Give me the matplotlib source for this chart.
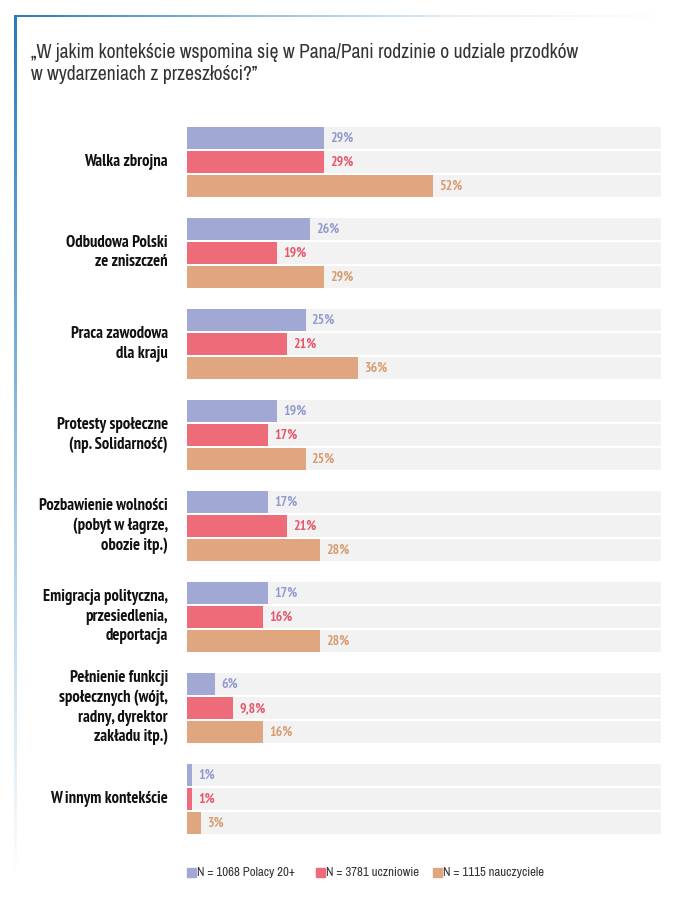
import numpy as np
import matplotlib.pyplot as plt
from matplotlib import font_manager
from matplotlib.font_manager import FontProperties
from matplotlib.colors import LinearSegmentedColormap

# data
categories = ["Walka zbrojna",
              "Odbudowa Polski\nze zniszczeń",
              "Praca zawodowa\ndla kraju",
              "Protesty społeczne\n(np. Solidarność)",
              "Pozbawienie wolności\n(pobyt w łagrze,\nobozie itp.)",
              "Emigracja polityczna,\nprzesiedlenia,\ndeportacja",
              "Pełnienie funkcji\nspołecznych (wójt,\nradny, dyrektor\nzakładu itp.)",
              "W innym kontekście"]
polacy = [29, 26, 25, 19, 17, 17, 6, 1]
uczniowie = [29, 19, 21, 17, 21, 16, 9.8, 1]
nauczyciele = [52, 29, 36, 25, 28, 28, 16, 3]
series_names = ["N = 1068 Polacy 20+", "N = 3781 uczniowie", "N = 1115 nauczyciele"]
title_lines = ["„W jakim kontekście wspomina się w Pana/Pani rodzinie o udziale przodków",
               "w wydarzeniach z przeszłości?”"]

bar_colors = ["#a1a8d4", "#ee6c7a", "#dfa67f"]
text_colors = ["#929ace", "#e5586b", "#d89c72"]


def pick_font(bold):
    # look for a narrow / condensed face, else a plain sans
    fonts = font_manager.fontManager.ttflist
    for key in ["Narrow", "Condensed"]:
        for f in fonts:
            nm = f.fname.split("/")[-1]
            if key.lower() not in (f.name + nm).lower():
                continue
            if "oblique" in nm.lower() or "italic" in nm.lower():
                continue
            isbold = f.weight in ("bold", 700) or "bold" in nm.lower()
            if isbold == bold:
                return FontProperties(fname=f.fname)
    return FontProperties(family="Roboto", weight="bold" if bold else "normal")


f_reg = pick_font(False)
f_bold = pick_font(True)

fig = plt.figure(figsize=(6.8, 9), dpi=100)
W, H = 680, 900
renderer = fig.canvas.get_renderer()


def fit_size(text, fp, target_px, size0=10.0):
    t = fig.text(0, 0, text, fontproperties=fp, fontsize=size0)
    w = t.get_window_extent(renderer).width
    t.remove()
    return size0 * target_px / w


title_fs = min(fit_size(title_lines[0], f_reg, 552), 15)
cat_fs = min(fit_size("Pozbawienie wolności", f_bold, 130), 12.5)
val_fs = min(fit_size("29%", f_bold, 23), 10.5)
leg_fs = min(fit_size(series_names[0], f_reg, 98), 9.5)

# frame: fading top line and fading left line
cmap_h = LinearSegmentedColormap.from_list("g", ["#2b7bb9", "#8dbbde", "#e6f0f8", "#ffffff"])
top = fig.add_axes([14/W, 1-17.5/H, 666/W, 2.2/H])
top.imshow(np.linspace(0, 1, 300)[None, :], aspect="auto", cmap=cmap_h)
top.axis("off")
cmap_v = LinearSegmentedColormap.from_list("v", ["#2b7bb9", "#6ea8d4", "#b9d6ec", "#ffffff"])
left = fig.add_axes([14/W, 1-880/H, 2.2/W, 864/H])
left.imshow(np.linspace(0, 1, 300)[:, None], aspect="auto", cmap=cmap_v)
left.axis("off")

for k, line in enumerate(title_lines):
    fig.text(31/W, 1-(52 + 23*k)/H, line, fontproperties=f_reg, fontsize=title_fs,
             color="#333333", va="center", ha="left")

ax = fig.add_axes([187/W, 1-836/H, 474/W, 709/H])
pitch = 91
bh = 21.5
values = [polacy, uczniowie, nauczyciele]
for gi, cat in enumerate(categories):
    for j in range(3):
        y = gi*pitch + j*24 + bh/2
        v = values[j][gi]
        ax.barh(y, 100, height=bh, color="#f2f2f2")
        ax.barh(y, v, height=bh, color=bar_colors[j])
        lab = (("%g" % v).replace(".", ",")) + "%"
        ax.text(v + 1.3, y + 0.5, lab, color=text_colors[j], fontproperties=f_bold,
                fontsize=val_fs, va="center", ha="left")
    lines = cat.split("\n")
    yc = gi*pitch + 24 + bh/2
    for k, line in enumerate(lines):
        ax.text(-4.0, yc + (k - (len(lines)-1)/2)*19.5, line, ha="right", va="center",
                fontproperties=f_bold, fontsize=cat_fs, color="#111111")

ax.set_xlim(0, 100)
ax.set_ylim(709, 0)
ax.axis("off")

# legend
lx = [187, 316, 433]
for j, name in enumerate(series_names):
    fig.patches.append(plt.Rectangle((lx[j]/W, 1-876.5/H), 9/W, 9/H, color=bar_colors[j],
                                     transform=fig.transFigure))
    fig.text((lx[j]+10)/W, 1-872/H, name, fontproperties=f_reg, fontsize=leg_fs,
             color="#333333", va="center", ha="left")

fig.savefig("out.png", dpi=100)
